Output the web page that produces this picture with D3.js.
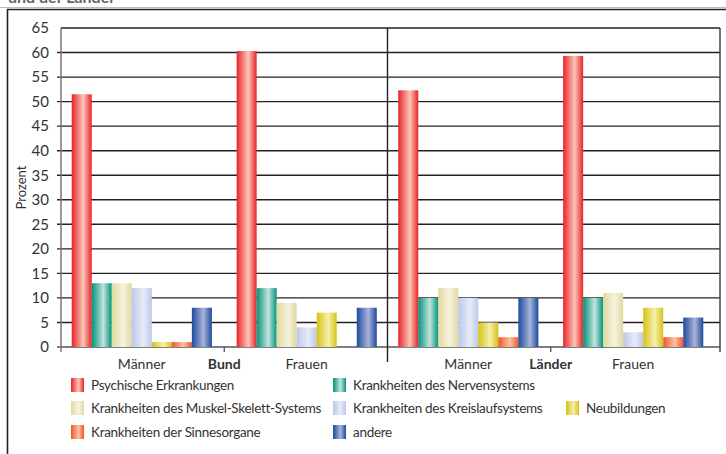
<!DOCTYPE html>
<html>
<head>
<meta charset="utf-8">
<script src="https://cdn.jsdelivr.net/npm/d3@7/dist/d3.min.js"></script>
<style>
  html, body { margin: 0; padding: 0; background: #fff; }
  svg { display: block; }
  text { font-family: 'Lato', 'Noto Sans', sans-serif; fill: #333; }
</style>
</head>
<body>
<div id="chart"></div>
<script>
// Daten
const panels = ['Bund', 'Länder'];
const sexes = ['Männer', 'Frauen'];
const categories = [
  'Psychische Erkrankungen',
  'Krankheiten des Nervensystems',
  'Krankheiten des Muskel-Skelett-Systems',
  'Krankheiten des Kreislaufsystems',
  'Neubildungen',
  'Krankheiten der Sinnesorgane',
  'andere'
];
const bundMaenner = [51.5, 13, 13, 12, 1, 1, 8];
const bundFrauen = [60.3, 12, 9, 4, 7, 0, 8];
const laenderMaenner = [52.3, 10, 12, 10, 5, 2, 10];
const laenderFrauen = [59.3, 10, 11, 3, 8, 2, 6];
const yTicks = [0, 5, 10, 15, 20, 25, 30, 35, 40, 45, 50, 55, 60, 65];

// Farben (Rand, Mitte)
const colors = [
  ['#e8232b', '#fcc6b6'],
  ['#00957c', '#c4e3dc'],
  ['#e0d9a0', '#f6f3de'],
  ['#bcc6e8', '#e8ecf8'],
  ['#d6c214', '#f5f0ac'],
  ['#ef5628', '#fcc2a2'],
  ['#1c4b9c', '#aab3da']
];

const values = {
  'Bund': { 'Männer': bundMaenner, 'Frauen': bundFrauen },
  'Länder': { 'Männer': laenderMaenner, 'Frauen': laenderFrauen }
};

const W = 726, H = 454;
const plotLeft = 61, plotRight = 720, plotTop = 28, plotBottom = 347;

const svg = d3.select('#chart').append('svg').attr('width', W).attr('height', H);

// Verläufe
const defs = svg.append('defs');
colors.forEach(function (c, i) {
  const g = defs.append('linearGradient').attr('id', 'grad' + i)
    .attr('x1', '0%').attr('x2', '100%').attr('y1', '0%').attr('y2', '0%');
  g.append('stop').attr('offset', '0%').attr('stop-color', c[0]);
  g.append('stop').attr('offset', '58%').attr('stop-color', c[1]);
  g.append('stop').attr('offset', '100%').attr('stop-color', c[0]);
});

// Titel (oben abgeschnitten wie im Original)
svg.append('text').attr('x', 8).attr('y', 3)
  .style('font-size', '16px').style('font-weight', 'bold').style('fill', '#666')
  .text('und der Länder');

// Rahmen
svg.append('line').attr('x1', 0).attr('x2', W).attr('y1', 7.5).attr('y2', 7.5)
  .attr('stroke', '#bbb').attr('stroke-width', 1);
svg.append('path').attr('d', 'M7.5,' + H + 'V9.5H' + W)
  .attr('fill', 'none').attr('stroke', '#222').attr('stroke-width', 1.6);

// Skalen
const y = d3.scaleLinear().domain([0, 65]).range([plotBottom, plotTop]);
const xPanel = d3.scaleBand().domain(panels).range([plotLeft, 714]);
const xSex = d3.scaleBand().domain(sexes).range([0, xPanel.bandwidth()])
  .paddingInner(0.15).paddingOuter(0.065);
const xCat = d3.scaleBand().domain(categories).range([0, xSex.bandwidth()]);

// Gitterlinien
const grid = svg.append('g');
grid.selectAll('line').data(yTicks).join('line')
  .attr('x1', function (d) { return d === 65 ? plotLeft : plotLeft - 4; })
  .attr('x2', plotRight)
  .attr('y1', function (d) { return y(d); })
  .attr('y2', function (d) { return y(d); })
  .attr('stroke', function (d) { return d === 0 ? '#555' : '#222'; })
  .attr('stroke-width', 1.4);

// Y-Achse
const axisY = svg.append('g').attr('transform', 'translate(' + plotLeft + ',0)')
  .call(d3.axisLeft(y).tickValues(yTicks).tickSize(0).tickPadding(12));
axisY.select('.domain').remove();
axisY.selectAll('text').style('font-size', '15px').style('fill', '#333')
  .style('font-family', "'Lato', 'Noto Sans', sans-serif");

svg.append('line').attr('x1', plotLeft).attr('x2', plotLeft).attr('y1', plotTop).attr('y2', plotBottom + 5)
  .attr('stroke', '#777').attr('stroke-width', 1.5);
svg.append('line').attr('x1', plotRight).attr('x2', plotRight).attr('y1', plotTop).attr('y2', plotBottom + 5)
  .attr('stroke', '#444').attr('stroke-width', 1.5);

svg.append('text')
  .attr('transform', 'translate(26,' + ((plotTop + plotBottom) / 2) + ') rotate(-90)')
  .attr('text-anchor', 'middle')
  .style('font-size', '13px')
  .text('Prozent');

// Balken
const panelG = svg.selectAll('.panel').data(panels).join('g')
  .attr('class', 'panel')
  .attr('transform', function (p) { return 'translate(' + xPanel(p) + ',0)'; });

panelG.each(function (p) {
  const pg = d3.select(this);
  sexes.forEach(function (s) {
    const gg = pg.append('g').attr('transform', 'translate(' + xSex(s) + ',0)');
    gg.selectAll('rect').data(values[p][s]).join('rect')
      .attr('x', function (d, i) { return xCat(categories[i]); })
      .attr('width', xCat.bandwidth())
      .attr('y', function (d) { return y(d); })
      .attr('height', function (d) { return plotBottom - y(d); })
      .attr('fill', function (d, i) { return 'url(#grad' + i + ')'; });
    pg.append('text')
      .attr('x', xSex(s) + xSex.bandwidth() / 2)
      .attr('y', 369)
      .attr('text-anchor', 'middle')
      .style('font-size', '14px')
      .text(s);
  });
  pg.append('text')
    .attr('x', xPanel.bandwidth() / 2)
    .attr('y', 369)
    .attr('text-anchor', 'middle')
    .style('font-size', '14px')
    .style('font-weight', 'bold')
    .text(p);
  // Tick unter der Achse
  pg.append('line')
    .attr('x1', xPanel.bandwidth() / 2).attr('x2', xPanel.bandwidth() / 2)
    .attr('y1', plotBottom).attr('y2', plotBottom + 5)
    .attr('stroke', '#444').attr('stroke-width', 1.2);
});

// Trennlinie
svg.append('line')
  .attr('x1', xPanel('Länder')).attr('x2', xPanel('Länder'))
  .attr('y1', plotTop).attr('y2', 362)
  .attr('stroke', '#222').attr('stroke-width', 1.4);

// Legende
const legendX = [71, 333, 566];
const legendY = [385, 408, 432];
const legendPos = [[0, 0], [1, 0], [0, 1], [1, 1], [2, 1], [0, 2], [1, 2]];
const legend = svg.selectAll('.legend').data(categories).join('g')
  .attr('class', 'legend')
  .attr('transform', function (d, i) {
    return 'translate(' + legendX[legendPos[i][0]] + ',' + legendY[legendPos[i][1]] + ')';
  });
legend.append('rect').attr('x', 0).attr('y', -7).attr('width', 13).attr('height', 14)
  .attr('fill', function (d, i) { return 'url(#grad' + i + ')'; });
legend.append('text').attr('x', 20).attr('y', 5)
  .style('font-size', '13.5px')
  .style('letter-spacing', '-0.3px')
  .text(function (d) { return d; });
</script>
</body>
</html>
